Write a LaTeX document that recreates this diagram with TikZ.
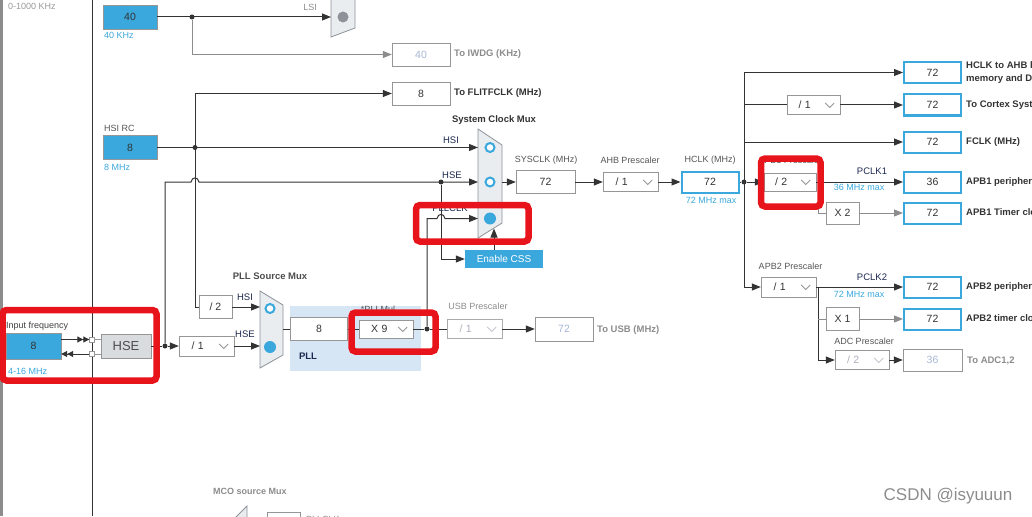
\documentclass[tikz,border=0pt]{standalone}
\usepackage{fontspec}
\setmainfont{Liberation Sans}
\usetikzlibrary{arrows.meta}
\definecolor{cubeblue}{RGB}{58,168,220}
\definecolor{wirecol}{RGB}{51,51,51}
\definecolor{boxgray}{RGB}{150,150,150}
\definecolor{labgray}{RGB}{85,85,85}
\definecolor{offgray}{RGB}{140,140,140}
\definecolor{paleval}{RGB}{168,184,214}
\definecolor{disgray}{RGB}{172,175,188}
\definecolor{navytext}{RGB}{28,40,80}
\definecolor{muxfill}{RGB}{233,237,240}
\definecolor{muxline}{RGB}{140,146,152}
\definecolor{pllshade}{RGB}{214,230,244}
\definecolor{hsefill}{RGB}{217,220,222}
\definecolor{markred}{RGB}{232,20,28}
\begin{document}
\begin{tikzpicture}[x=1pt,y=-1pt,
  wire/.style={draw=wirecol,line width=1pt},
  arr/.style={wire,-{Triangle[length=9pt,width=7pt]}},
  grayarr/.style={draw=offgray,line width=1pt,-{Triangle[length=9pt,width=7pt]}},
  dblarr/.style={wire,-{Triangle[length=6pt,width=6pt]Triangle[length=6pt,width=6pt]}},
  srcbox/.style={draw=boxgray,fill=cubeblue,text=wirecol,font=\fontsize{10.5}{12}\selectfont,minimum width=54pt,minimum height=24pt,inner sep=0pt},
  valbox/.style={draw=boxgray,fill=white,text=wirecol,font=\fontsize{10.5}{12}\selectfont,minimum width=58pt,minimum height=23pt,inner sep=0pt},
  offbox/.style={valbox,text=paleval},
  outbox/.style={valbox,draw=cubeblue,line width=2pt,minimum width=57pt,minimum height=21pt},
  dropbox/.style={valbox,text width=30pt,align=left,minimum width=55pt,minimum height=19pt},
  lab/.style={text=labgray,font=\fontsize{9}{11}\selectfont,inner sep=0pt},
  boldlab/.style={text=wirecol,font=\fontsize{9.5}{13}\selectfont\bfseries,inner sep=0pt,anchor=west,align=left},
  note/.style={text=cubeblue,font=\fontsize{9}{11}\selectfont,inner sep=0pt},
  sig/.style={text=navytext,font=\fontsize{9.5}{11}\selectfont,inner sep=0pt},
  mux/.style={fill=muxfill,draw=muxline,line width=0.8pt},
  selring/.style={draw=cubeblue,line width=2pt,fill=white},
  joint/.style={circle,fill=wirecol,inner sep=0pt,minimum size=5pt},
  redmark/.style={draw=markred,line width=6.5pt,rounded corners=4pt}]
\useasboundingbox (0,0) rectangle (1032,516);
\clip (0,0) rectangle (1032,516);

% left edge
\fill[black!45] (0,0) rectangle (3,516);
\draw[wire] (92,0) -- (92,516);
\node[lab,anchor=west,text=black!40] (range) at (8,6) {0-1000 KHz};
\fill[pllshade] (290,306) rectangle (421,371);

% LSI
\node[lab,anchor=west] (lsit) at (104,-3) {LSI RC};
\node[srcbox] (lsi) at (130,17) {40};
\node[note,anchor=west] (lsif) at (104,35) {40 KHz};
\filldraw[mux] (331,-12) -- (355,-4) -- (355,28) -- (331,37) -- cycle;
\fill[muxline] (343,17) circle (5.5);
\coordinate (lsiin) at (331,17);
\node[joint] (lsidot) at (192,17) {};
\node[lab,text=offgray] (lsil) at (310,7) {LSI};
\node[offbox] (iwdg) at (421,54.5) {40};
\node[boldlab,text=offgray] (iwdgt) at (454,54.5) {To IWDG (KHz)};
\node[valbox] (flit) at (421,93.5) {8};
\node[boldlab] (flitt) at (454,93.5) {To FLITFCLK (MHz)};

% HSI
\node[lab,anchor=west] (hsit) at (104,128) {HSI RC};
\node[srcbox] (hsi) at (130,147.5) {8};
\node[note,anchor=west] (hsif) at (104,167) {8 MHz};
\node[joint] (hsidot) at (195,147.5) {};
\coordinate (hsiup) at (195,93.5);

% system clock mux
\filldraw[mux] (478,129) -- (502,145) -- (502,223) -- (478,238) -- cycle;
\draw[selring] (490,147.5) circle (4.5);
\draw[selring] (490,182) circle (4.5);
\fill[cubeblue] (490,218.5) circle (6);
\coordinate (smhsi) at (478,147.5);
\coordinate (smhse) at (478,182);
\coordinate (smpll) at (478,218.5);
\coordinate (smout) at (502,182);
\coordinate (smcss) at (494,228.5);
\node[boldlab,anchor=center] (smt) at (494,120) {System Clock Mux};
\node[sig] (smhsil) at (451,140) {HSI};
\node[sig] (smhsel) at (452,175) {HSE};
\node[sig] (smplll) at (450,208) {PLLCLK};
\node[joint] (cssdot) at (441,182) {};
\node[fill=cubeblue,text=white,font=\fontsize{10}{12}\selectfont,minimum width=78pt,minimum height=18pt,inner sep=0pt] (css) at (504,259) {Enable CSS};

% sysclk / ahb / hclk
\node[valbox,minimum width=59pt] (sysclk) at (545.5,182) {72};
\node[lab] (sysclkt) at (546,160) {SYSCLK (MHz)};
\node[dropbox] (ahb) at (630.5,182) {/ 1};
\node[lab] (ahbt) at (630,160) {AHB Prescaler};
\node[outbox] (hclk) at (710,182) {72};
\node[lab] (hclkt) at (710,160) {HCLK (MHz)};
\node[note] (hclkn) at (711,200) {72 MHz max};
\node[joint] (hdot) at (744,182) {};
\coordinate (busn) at (744,72.5);
\coordinate (buss) at (744,287);

% right column
\foreach \n/\y/\v/\t in {ahbout/72.5/72/{HCLK to AHB bus, core,\\memory and DMA (MHz)},
    cortexout/105/72/{To Cortex System timer (MHz)}, fclkout/142/72/{FCLK (MHz)},
    pclk1out/182/36/{APB1 peripheral clocks (MHz)}, tim1out/213/72/{APB1 Timer clocks (MHz)},
    pclk2out/287/72/{APB2 peripheral clocks (MHz)}, tim2out/319/72/{APB2 timer clocks (MHz)}} {
  \node[outbox] (\n) at (932.5,\y) {\v};
  \node[boldlab] (\n-t) at ([xshift=4pt]\n.east) {\t};
}
\node[offbox,minimum width=59pt,minimum height=22pt] (adcout) at (932.5,360) {36};
\node[boldlab,text=offgray] (adcoutt) at (967,361) {To ADC1,2};

\node[dropbox,minimum width=53pt] (cortex) at (813.5,105) {/ 1};
\node[dropbox,minimum width=52pt,minimum height=18pt] (apb1) at (790,182) {/ 2};
\node[lab] (apb1t) at (790,160) {APB1 Prescaler};
\node[sig] (pclk1) at (872,171) {PCLK1};
\node[note] (pclk1n) at (859,187) {36 MHz max};
\node[valbox,minimum width=33pt,minimum height=22pt] (x2) at (842.5,213) {X 2};
\node[dropbox,minimum height=20pt] (apb2) at (788.5,287) {/ 1};
\node[lab] (apb2t) at (790.5,266) {APB2 Prescaler};
\node[sig] (pclk2) at (872,277) {PCLK2};
\node[note] (pclk2n) at (859,294) {72 MHz max};
\node[valbox,minimum width=33pt,minimum height=23pt] (x1) at (842.5,319) {X 1};
\node[dropbox,text=disgray,minimum width=54pt] (adcdiv) at (862,360) {/ 2};
\node[lab] (adct) at (864,341) {ADC Prescaler};
\coordinate (p1split) at (818,182);
\coordinate (p2split) at (818,287);

% input / hse
\node[lab,anchor=west,text=black!75] (inft) at (6,326) {Input frequency};
\node[srcbox,minimum width=55pt,minimum height=26pt] (inf) at (33.5,346) {8};
\node[note,anchor=west] (infr) at (8,371) {4-16 MHz};
\node[draw=boxgray,fill=hsefill,text=black!70,font=\fontsize{13}{15}\selectfont,minimum width=50pt,minimum height=24pt,inner sep=0pt] (hse) at (126,346) {HSE};
\node[draw=boxgray,fill=white,minimum size=5pt,inner sep=0pt] (sqa) at (92,339.5) {};
\node[draw=boxgray,fill=white,minimum size=5pt,inner sep=0pt] (sqb) at (92,354) {};
\node[joint] (hsedot) at (165,346) {};
\coordinate (hseup) at (165,182);
\node[dropbox,minimum height=20pt] (hsediv) at (206.5,346) {/ 1};
\node[valbox,minimum width=33pt,minimum height=23pt] (pdiv2) at (215.5,307) {/ 2};

% pll source mux
\filldraw[mux] (260,291) -- (283,305) -- (283,355) -- (260,368) -- cycle;
\draw[selring] (270,308.5) circle (4.5);
\fill[cubeblue] (270,347) circle (6);
\coordinate (pmhsi) at (260,307);
\coordinate (pmhse) at (260,346);
\coordinate (pmout) at (283,329);
\node[boldlab,anchor=center,text=black!70] (pmt) at (270,276) {PLL Source Mux};
\node[sig] (pmhsil) at (245,297) {HSI};
\node[sig] (pmhsel) at (245,334) {HSE};

% pll and usb
\node[valbox,minimum width=57pt] (pll8) at (319,329) {8};
\node[dropbox,minimum width=54pt,minimum height=18pt] (pllmul) at (386,329) {X 9};
\node[lab] (pllmt) at (378,309) {*PLLMul};
\node[sig,font=\fontsize{9.5}{11}\selectfont\bfseries] (pllt) at (308,356) {PLL};
\node[joint] (muldot) at (427,329) {};
\node[dropbox,text=disgray,draw=boxgray!80] (usbdiv) at (474.5,329) {/ 1};
\node[lab,text=offgray] (usbt) at (478,306) {USB Prescaler};
\node[offbox,minimum height=24pt] (usbout) at (564,329) {72};
\node[boldlab,text=offgray] (usboutt) at (597,330) {To USB (MHz)};

% chevrons of the drop-down boxes
\foreach \d in {ahb,cortex,apb1,apb2,pllmul,hsediv}
  \draw[boxgray,line width=0.8pt] ([xshift=-15pt,yshift=2pt]\d.east) -- ++(4.5,4.5) -- ++(4.5,-4.5);
\foreach \d in {usbdiv,adcdiv}
  \draw[disgray!70,line width=0.8pt] ([xshift=-15pt,yshift=2pt]\d.east) -- ++(4.5,4.5) -- ++(4.5,-4.5);

% mco (cut off)
\node[boldlab,text=offgray,font=\fontsize{9}{11}\selectfont\bfseries] (mcot) at (213,491) {MCO source Mux};
\filldraw[mux] (233,520) -- (247,506) -- (247,520);
\node[draw=boxgray,minimum width=33pt,minimum height=14pt,inner sep=0pt] (mcobox) at (283.5,519) {};
\node[lab,anchor=west,text=offgray] (mcopll) at (306,519) {PLLCLK};

% wires
\draw[arr] (lsi.east) -- (lsiin);
\draw[grayarr] (lsidot) |- (iwdg.west);
\draw[arr] (hsi.east) -- (smhsi);
\draw[arr] (pdiv2.west) -| (hsiup) -- (flit.west);
\draw[arr] (hsedot) -- (hseup) -- (191,182) .. controls (192,176.5) and (198,176.5) .. (199,182) -- (smhse);
\draw[arr] (cssdot) |- (css.west);
\draw[arr] ([xshift=-10pt]css.north) -- (smcss);
\draw[arr] (muldot) |- (437,218.5) .. controls (438,213) and (444,213) .. (445,218.5) -- (smpll);
\draw[arr] (smout) -- (sysclk.west);
\draw[arr] (sysclk.east) -- (ahb.west);
\draw[arr] (ahb.east) -- (hclk.west);
\draw[wire] (hclk.east) -- (hdot);
\draw[wire] (busn) -- (buss);
\draw[arr] (busn) -- (ahbout.west);
\draw[wire] (busn |- cortex) -- (cortex.west);
\draw[arr] (cortex.east) -- (cortexout.west);
\draw[arr] (busn |- fclkout) -- (fclkout.west);
\draw[arr] (hdot) -- (apb1.west);
\draw[arr] (apb1.east) -- (pclk1out.west);
\draw[draw=offgray,line width=1pt] (p1split) |- (x2.west);
\draw[grayarr] (x2.east) -- (tim1out.west);
\draw[arr] (buss) -- (apb2.west);
\draw[arr] (apb2.east) -- (pclk2out.west);
\draw[arr] (p2split) |- (adcdiv.west);
\draw[draw=offgray,line width=1pt] (p2split |- x1) -- (x1.west);
\draw[grayarr] (x1.east) -- (tim2out.west);
\draw[arr] (adcdiv.east) -- (adcout.west);
\draw[dblarr] (inf.east |- sqa) -- (sqa.west);
\draw[dblarr] (sqb.west) -- (inf.east |- sqb);
\draw[draw=boxgray] (sqa.east) -- (hse.west |- sqa);
\draw[draw=boxgray] (sqb.east) -- (hse.west |- sqb);
\draw[wire] (hse.east) -- (hsedot);
\draw[arr] (hsedot) -- (hsediv.west);
\draw[arr] (pdiv2.east) -- (pmhsi);
\draw[arr] (hsediv.east) -- (pmhse);
\draw[wire] (pmout) -- (pll8.west);
\draw[wire] (pll8.east) -- (pllmul.west);
\draw[wire] (pllmul.east) -- (muldot);
\draw[wire] (muldot) -- (usbdiv.west);
\draw[arr] (usbdiv.east) -- (usbout.west);

% red marks
\draw[redmark] (416,205) rectangle (528.5,241.5);
\draw[redmark] (2.5,310) rectangle (156.5,380.5);
\draw[redmark] (351.5,312.5) rectangle (435.5,351.5);
\draw[redmark] (761,158.5) rectangle (820.5,206.5);

\node[text=black!45,font=\fontsize{17}{19}\selectfont] (mark) at (948,496) {CSDN @isyuuun};
\end{tikzpicture}
\end{document}
